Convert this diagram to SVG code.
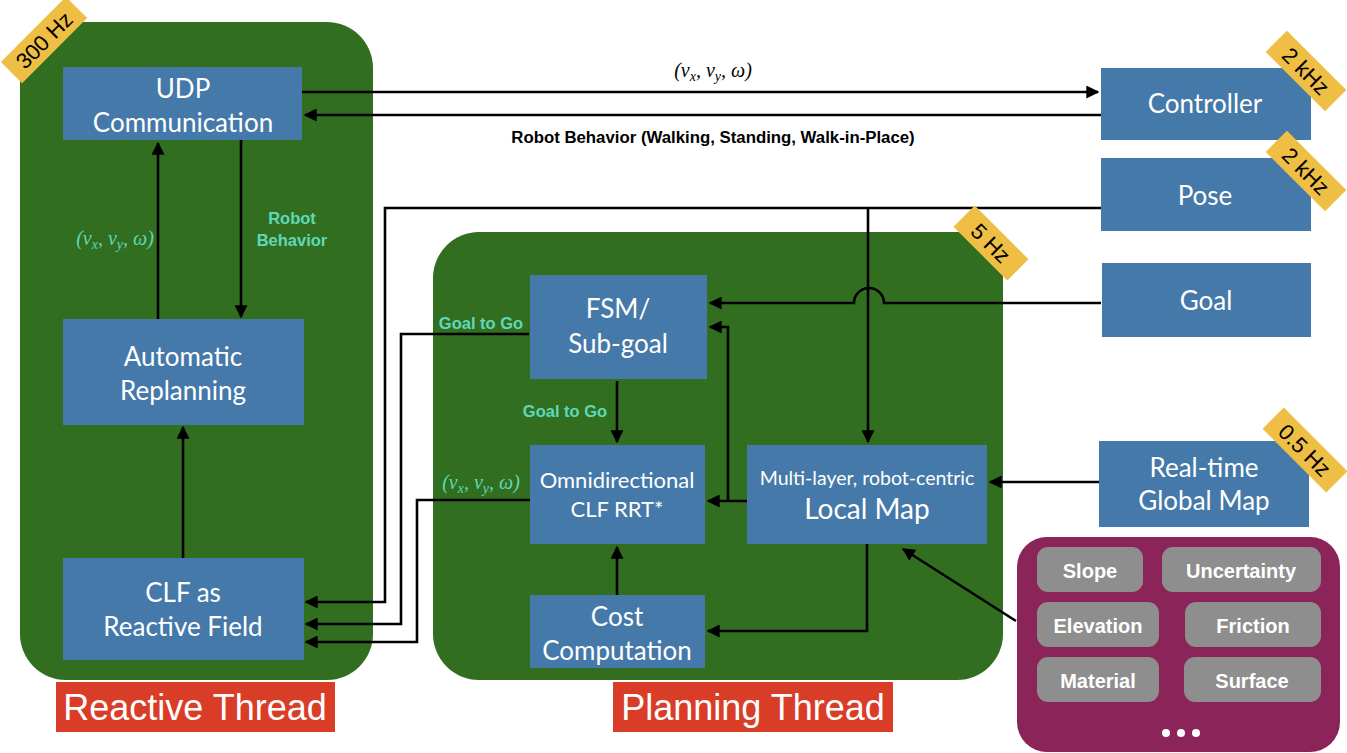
<svg xmlns="http://www.w3.org/2000/svg" width="1347" height="753" viewBox="0 0 1347 753">
<defs>
<marker id="ah" viewBox="0 0 10 10" refX="9" refY="5" markerWidth="5" markerHeight="5" orient="auto-start-reverse" markerUnits="strokeWidth">
<path d="M0,0 L10,5 L0,10 z" fill="#000"/>
</marker>
<style>
.thread{fill:#326E20}
.box{fill:#4579A9}
.bt{font-family:Lato,"Open Sans",sans-serif;fill:#fff;text-anchor:middle}
.lbl{fill:#DA3D27}
.lt{font-family:"Liberation Sans",Arial,sans-serif;fill:#fff;font-size:36px;text-anchor:middle}
.badge{fill:#EFBE45}
.bdt{font-family:"Liberation Sans",Arial,sans-serif;font-size:22px;fill:#000;text-anchor:middle}
.teal{font-family:"Liberation Sans",Arial,sans-serif;font-weight:bold;font-size:16.5px;fill:#5FD8B8;text-anchor:middle}
.math{font-family:"Liberation Serif","Times New Roman",serif;font-style:italic;font-size:20px;text-anchor:middle}
.pill{fill:#8E8E8E}
.pt{font-family:"Liberation Sans",Arial,sans-serif;font-weight:bold;font-size:20px;fill:#fff;text-anchor:middle}
.c{fill:none;stroke:#000;stroke-width:2.6}
.a{marker-end:url(#ah)}
</style>
</defs>
<rect width="1347" height="753" fill="#fff"/>

<g id="reactive-thread">
<rect class="thread" x="20" y="22" width="353" height="658" rx="46"/>
<rect class="lbl" x="56" y="682" width="279" height="50"/>
<text class="lt" x="195" y="720">Reactive Thread</text>
</g>
<g id="planning-thread">
<rect class="thread" x="433" y="232" width="570" height="448" rx="46"/>
<rect class="lbl" x="613" y="682" width="280" height="50"/>
<text class="lt" x="753" y="720">Planning Thread</text>
</g>

<g id="connectors">
<path class="c a" d="M302,92 H1098"/>
<path class="c a" d="M1101,115 H305"/>
<path class="c a" d="M158,320 V143"/>
<path class="c a" d="M241,140 V317"/>
<path class="c a" d="M183,558 V427"/>
<path class="c a" d="M1101,208 H385 V602 H306"/>
<path class="c a" d="M868,208 V442"/>
<path class="c a" d="M529,334 H401 V624 H306"/>
<path class="c a" d="M530,500 H417 V642 H306"/>
<path class="c a" d="M1101,303 H884 A15,15 0 0 0 854,303 H710"/>
<path class="c a" d="M747,501 H708"/>
<path class="c a" d="M728,501 V327 H710"/>
<path class="c a" d="M617,381 V442"/>
<path class="c a" d="M617,595 V547"/>
<path class="c a" d="M867,544 V631 H708"/>
<path class="c a" d="M1099,482 H990"/>
<path class="c a" d="M1016,621 L903,549"/>
<text class="math" x="713" y="77">(v<tspan font-size="14" dy="4">x</tspan><tspan dy="-4">, v</tspan><tspan font-size="14" dy="4">y</tspan><tspan dy="-4">, ω)</tspan></text>
<text x="713" y="143" font-family="'Liberation Sans',Arial,sans-serif" font-weight="bold" font-size="16.8" text-anchor="middle">Robot Behavior (Walking, Standing, Walk-in-Place)</text>
<text class="math" x="115" y="245" fill="#5FD8B8">(v<tspan font-size="14" dy="4">x</tspan><tspan dy="-4">, v</tspan><tspan font-size="14" dy="4">y</tspan><tspan dy="-4">, ω)</tspan></text>
<text class="teal" x="292" y="224">Robot</text>
<text class="teal" x="292" y="246">Behavior</text>
<text class="teal" x="481" y="329">Goal to Go</text>
<text class="teal" x="565" y="417">Goal to Go</text>
<text class="math" x="481" y="489" fill="#5FD8B8">(v<tspan font-size="14" dy="4">x</tspan><tspan dy="-4">, v</tspan><tspan font-size="14" dy="4">y</tspan><tspan dy="-4">, ω)</tspan></text>
</g>

<g id="udp">
<rect class="box" x="63" y="67" width="239" height="73"/>
<text class="bt" x="183" y="98" font-size="26">UDP</text>
<text class="bt" x="183" y="132" font-size="26">Communication</text>
</g>
<g id="replanning">
<rect class="box" x="63" y="319" width="241" height="106"/>
<text class="bt" x="183" y="366" font-size="26">Automatic</text>
<text class="bt" x="183" y="400" font-size="26">Replanning</text>
</g>
<g id="clf">
<rect class="box" x="63" y="558" width="241" height="102"/>
<text class="bt" x="183" y="602" font-size="26">CLF as</text>
<text class="bt" x="183" y="636" font-size="26">Reactive Field</text>
</g>
<g id="fsm">
<rect class="box" x="530" y="275" width="177" height="104"/>
<text class="bt" x="618" y="318" font-size="26">FSM/</text>
<text class="bt" x="618" y="353" font-size="26">Sub-goal</text>
</g>
<g id="rrt">
<rect class="box" x="530" y="445" width="175" height="99"/>
<text class="bt" x="617" y="488" font-size="22">Omnidirectional</text>
<text class="bt" x="617" y="517" font-size="22">CLF RRT*</text>
</g>
<g id="cost">
<rect class="box" x="530" y="595" width="175" height="73"/>
<text class="bt" x="617" y="626" font-size="26">Cost</text>
<text class="bt" x="617" y="660" font-size="26">Computation</text>
</g>
<g id="localmap">
<rect class="box" x="747" y="445" width="240" height="99"/>
<text class="bt" x="867" y="485" font-size="19.5">Multi-layer, robot-centric</text>
<text class="bt" x="867" y="519" font-size="28">Local Map</text>
</g>
<g id="controller">
<rect class="box" x="1101" y="68" width="210" height="72"/>
<text class="bt" x="1205" y="113" font-size="26">Controller</text>
</g>
<g id="pose">
<rect class="box" x="1101" y="158" width="210" height="73"/>
<text class="bt" x="1205" y="205" font-size="26">Pose</text>
</g>
<g id="goal">
<rect class="box" x="1102" y="263" width="209" height="74"/>
<text class="bt" x="1206" y="310" font-size="26">Goal</text>
</g>
<g id="globalmap">
<rect class="box" x="1099" y="441" width="210" height="86"/>
<text class="bt" x="1204" y="477" font-size="26">Real-time</text>
<text class="bt" x="1204" y="510" font-size="26">Global Map</text>
</g>
<g id="layers">
<rect x="1017" y="537" width="323" height="215" rx="30" fill="#8B2458"/>
<rect class="pill" x="1037" y="547" width="106" height="45" rx="11"/>
<text class="pt" x="1090" y="578">Slope</text>
<rect class="pill" x="1162" y="547" width="159" height="45" rx="11"/>
<text class="pt" x="1241" y="578">Uncertainty</text>
<rect class="pill" x="1037" y="602" width="122" height="45" rx="11"/>
<text class="pt" x="1098" y="633">Elevation</text>
<rect class="pill" x="1185" y="602" width="136" height="45" rx="11"/>
<text class="pt" x="1253" y="633">Friction</text>
<rect class="pill" x="1037" y="657" width="122" height="45" rx="11"/>
<text class="pt" x="1098" y="688">Material</text>
<rect class="pill" x="1184" y="657" width="137" height="45" rx="11"/>
<text class="pt" x="1252" y="688">Surface</text>
<circle cx="1166" cy="733" r="4" fill="#fff"/>
<circle cx="1181" cy="733" r="4" fill="#fff"/>
<circle cx="1196" cy="733" r="4" fill="#fff"/>
</g>

<g id="badges">
<g transform="translate(44,40) rotate(-45)">
<rect class="badge" x="-46" y="-15" width="92" height="30"/>
<text class="bdt" x="0" y="8">300 Hz</text>
</g>
<g transform="translate(1306,71) rotate(45)">
<rect class="badge" x="-42" y="-15" width="84" height="30"/>
<text class="bdt" x="0" y="8">2 kHz</text>
</g>
<g transform="translate(1306,171) rotate(45)">
<rect class="badge" x="-42" y="-15" width="84" height="30"/>
<text class="bdt" x="0" y="8">2 kHz</text>
</g>
<g transform="translate(991,243) rotate(45)">
<rect class="badge" x="-38" y="-15" width="76" height="30"/>
<text class="bdt" x="0" y="8">5 Hz</text>
</g>
<g transform="translate(1305,450) rotate(45)">
<rect class="badge" x="-45" y="-15" width="90" height="30"/>
<text class="bdt" x="0" y="8">0.5 Hz</text>
</g>
</g>
</svg>
